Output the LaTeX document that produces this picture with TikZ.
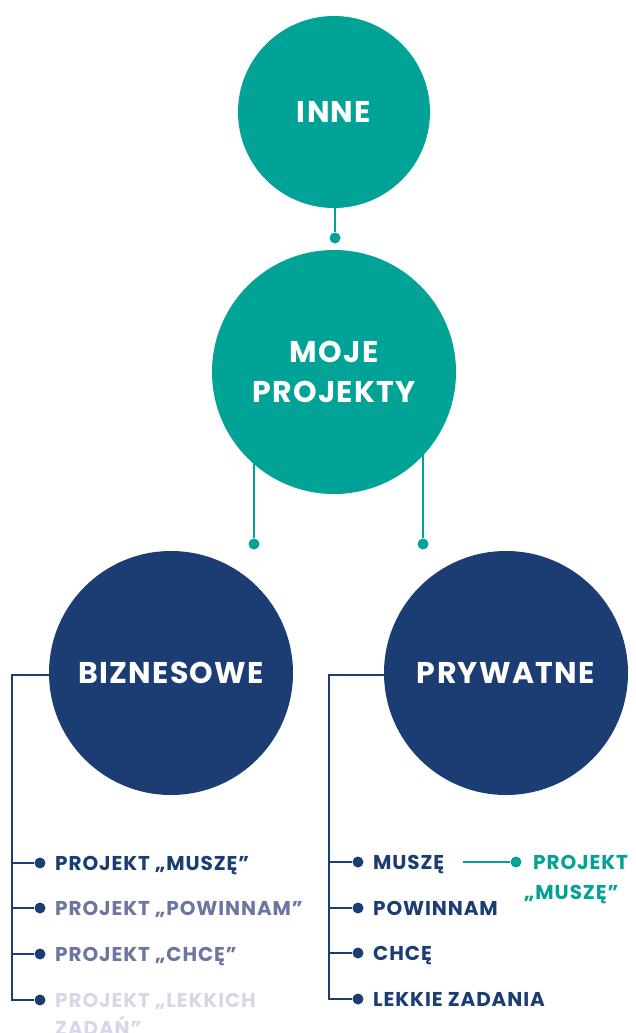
\documentclass[tikz,border=0pt]{standalone}
\usepackage{fontspec}
\setmainfont{Poppins}[LetterSpace=4.5]
\usetikzlibrary{backgrounds}
\definecolor{tealc}{RGB}{0,163,150}
\definecolor{navyc}{RGB}{28,61,115}
\definecolor{midc}{RGB}{108,118,162}
\definecolor{palec}{RGB}{214,216,232}
\begin{document}
\begin{tikzpicture}[x=1pt,y=-1pt,
  bigc/.style={circle, minimum size=244pt, inner sep=0pt, text=white,
    font=\fontsize{30}{40}\selectfont\bfseries, align=center},
  dotn/.style={circle, inner sep=0pt, minimum size=11pt},
  tline/.style={draw=tealc, line width=2pt},
  nline/.style={draw=navyc, line width=2pt},
  item/.style={anchor=base west, inner sep=0pt, font=\fontsize{20}{28}\selectfont\bfseries},
]
\useasboundingbox (0,0) rectangle (636,1033);
\node[bigc, fill=tealc, minimum size=192pt] (inne) at (334,112) {INNE};
\node[bigc, fill=tealc] (moje) at (334,372) {MOJE\\PROJEKTY};
\node[bigc, fill=navyc] (biz) at (171,673) {BIZNESOWE};
\node[bigc, fill=navyc] (pry) at (506,673) {PRYWATNE};
% teal dots
\node[dotn, fill=tealc] (d0) at (335,238) {};
\node[dotn, fill=tealc] (dL) at (254,544) {};
\node[dotn, fill=tealc] (dR) at (423,544) {};
% left list
\coordinate (bL) at (12,675);
\node[dotn, fill=navyc] (b1) at (40,863) {};
\node[dotn, fill=navyc] (b2) at (40,908) {};
\node[dotn, fill=navyc] (b3) at (40,954) {};
\node[dotn, fill=navyc] (b4) at (40,1000) {};
\node[item, text=navyc] (t1) at (55,870) {PROJEKT „MUSZĘ”};
\node[item, text=midc] (t2) at (55,915) {PROJEKT „POWINNAM”};
\node[item, text=midc] (t3) at (55,961) {PROJEKT „CHCĘ”};
\node[item, text=palec, anchor=north west, align=left] (t4) at (55,993) {PROJEKT „LEKKICH\\ZADAŃ”};
% right list
\coordinate (pL) at (329,675);
\node[dotn, fill=navyc] (p1) at (358,862) {};
\node[dotn, fill=navyc] (p2) at (358,908) {};
\node[dotn, fill=navyc] (p3) at (358,953) {};
\node[dotn, fill=navyc] (p4) at (358,999) {};
\node[item, text=navyc] (s1) at (373,869) {MUSZĘ};
\node[item, text=navyc] (s2) at (373,915) {POWINNAM};
\node[item, text=navyc] (s3) at (373,960) {CHCĘ};
\node[item, text=navyc] (s4) at (373,1006) {LEKKIE ZADANIA};
\coordinate (m0) at (463,862);
\node[dotn, fill=tealc] (m1) at (516,862) {};
\node[item, text=tealc, anchor=north west, align=left, font=\fontsize{20}{30}\selectfont\bfseries] (mt) at (524,855) {\hspace*{9pt}PROJEKT\\„MUSZĘ”};
\begin{scope}[on background layer]
\draw[tline] (inne.center -| d0) -- (d0);
\draw[tline] (moje.center -| dL) -- (dL);
\draw[tline] (moje.center -| dR) -- (dR);
\draw[nline] (biz.center |- bL) -- (bL) -- (bL |- b4) -- (b4);
\draw[nline] (bL |- b1) -- (b1);
\draw[nline] (bL |- b2) -- (b2);
\draw[nline] (bL |- b3) -- (b3);
\draw[nline] (pry.center |- pL) -- (pL) -- (pL |- p4) -- (p4);
\draw[nline] (pL |- p1) -- (p1);
\draw[nline] (pL |- p2) -- (p2);
\draw[nline] (pL |- p3) -- (p3);
\end{scope}
\draw[tline] (m0) -- (m1);
\end{tikzpicture}
\end{document}
